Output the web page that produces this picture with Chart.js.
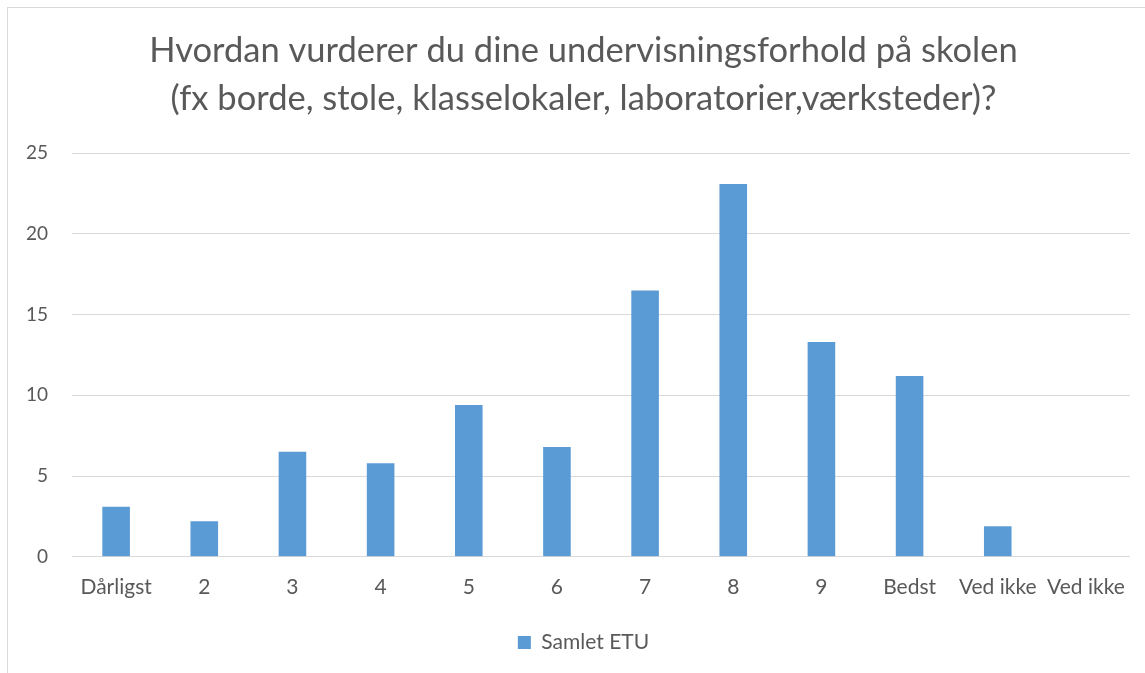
<!DOCTYPE html>
<html>
<head>
<meta charset="utf-8">
<script src="https://cdn.jsdelivr.net/npm/chart.js@4"></script>
<style>
  body { margin: 0; background: #fff; overflow: hidden; }
  #frame { position: absolute; left: 7px; top: 7px; width: 1200px; height: 700px;
           border-left: 1px solid #d9d9d9; border-top: 1px solid #d9d9d9; }
  canvas { position: absolute; left: 0; top: 0; }
</style>
</head>
<body>
<div id="frame"></div>
<canvas id="chart" width="1165" height="673"></canvas>
<script>
const categories = ['Dårligst', '2', '3', '4', '5', '6', '7', '8', '9', 'Bedst', 'Ved ikke', 'Ved ikke'];
const samletEtu = [3.1, 2.2, 6.5, 5.8, 9.4, 6.8, 16.5, 23.1, 13.3, 11.2, 1.9, 0];
const titleLines = ['Hvordan vurderer du dine undervisningsforhold på skolen',
                    '(fx borde, stole, klasselokaler, laboratorier,værksteder)?'];

const grey = '#595959';
const font = 'Lato, "Open Sans", sans-serif';

new Chart(document.getElementById('chart'), {
  type: 'bar',
  data: {
    labels: categories,
    datasets: [{
      label: 'Samlet ETU',
      data: samletEtu,
      backgroundColor: '#5b9bd5',
      borderWidth: 0,
      categoryPercentage: 1,
      barPercentage: 0.313
    }]
  },
  options: {
    responsive: false,
    animation: false,
    layout: { padding: { left: 2, right: 0, bottom: 10 } },
    plugins: {
      title: {
        display: true,
        text: titleLines,
        color: grey,
        font: { family: font, size: 34.5, weight: 'normal', lineHeight: 1.38 },
        padding: { top: 27, bottom: 31 }
      },
      legend: {
        position: 'bottom',
        labels: {
          color: grey,
          font: { family: font, size: 21 },
          boxWidth: 13,
          boxHeight: 13,
          padding: 22
        }
      },
      tooltip: { enabled: false }
    },
    scales: {
      x: {
        grid: { display: false },
        border: { display: false },
        ticks: { color: grey, font: { family: font, size: 21 }, padding: 10, maxRotation: 0, autoSkip: false }
      },
      y: {
        min: 0,
        max: 25,
        ticks: { stepSize: 5, color: grey, font: { family: font, size: 19 }, padding: 24 },
        grid: { color: '#d9d9d9', drawTicks: false },
        border: { display: false }
      },
      // empty axis on the right, keeps the frame wider than the plot
      spacer: {
        position: 'right',
        display: true,
        grid: { display: false },
        border: { display: false },
        ticks: { display: false },
        afterFit: (scale) => { scale.width = 35; }
      }
    }
  }
});
</script>
</body>
</html>
